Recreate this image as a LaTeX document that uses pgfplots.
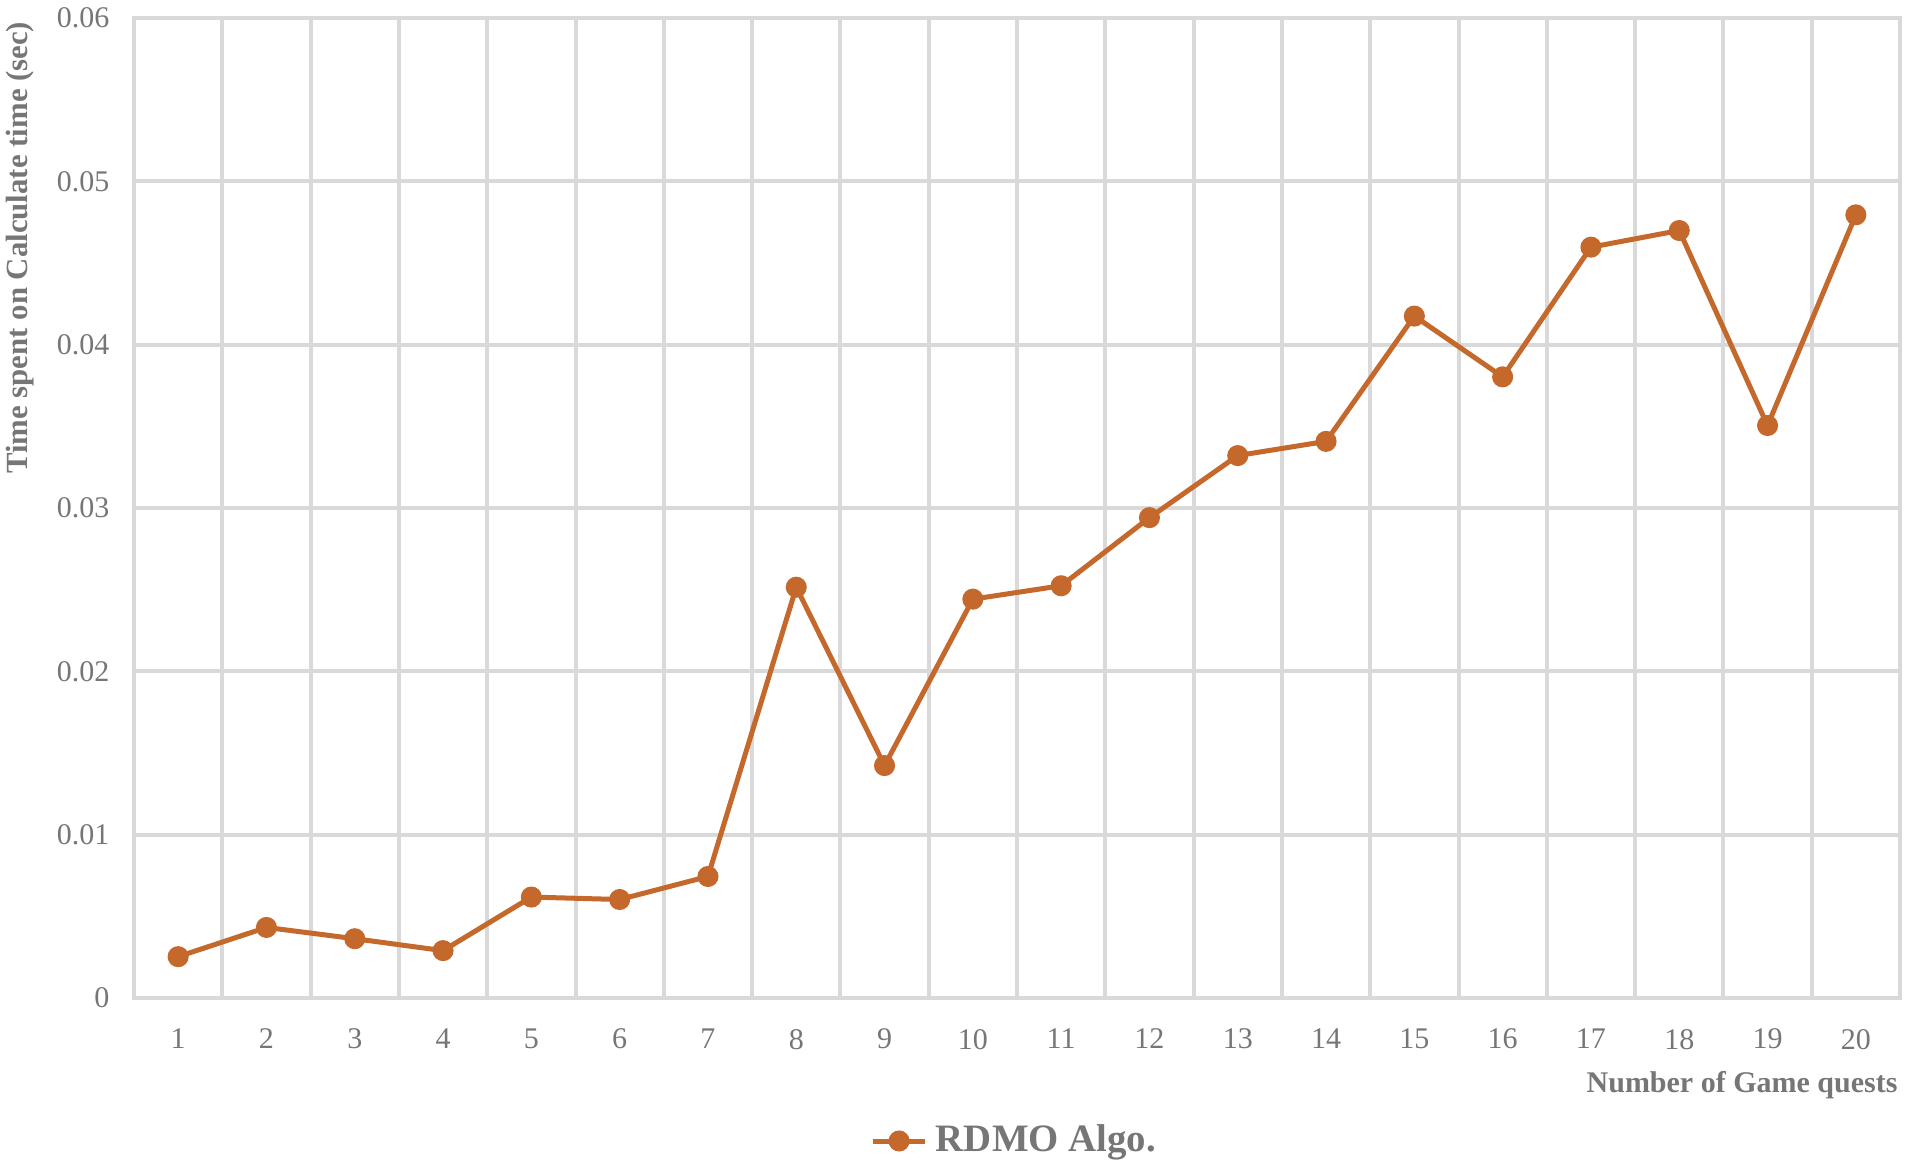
\documentclass[border=0pt]{standalone}
\usepackage{fontspec}
\setmainfont{Liberation Serif}
\usepackage{pgfplots}
\pgfplotsset{compat=1.18}
\definecolor{rdmo}{HTML}{C4682C}
\definecolor{gridc}{HTML}{D9D9D9}
\definecolor{txt}{HTML}{767676}

\begin{document}
\begin{tikzpicture}
% fixed page box: 1 px of the reference = 0.25pt
\path[use as bounding box] (-33.5pt,-42.25pt) rectangle (443.25pt,249.5pt);
\begin{axis}[
  at={(0,0)}, anchor=south west,
  scale only axis, width=441.5pt, height=245pt,
  xmin=0.5, xmax=20.5, ymin=0, ymax=0.06,
  xtick={1,...,20},
  minor xtick={1.5,2.5,...,19.5},
  ytick={0,0.01,0.02,0.03,0.04,0.05,0.06},
  scaled y ticks=false,
  yticklabel style={/pgf/number format/fixed, /pgf/number format/precision=2},
  /pgf/number format/assume math mode=true,
  major tick length=0pt, minor tick length=0pt,
  axis line style={draw=gridc, line width=1pt},
  ymajorgrids, xminorgrids,
  grid style={draw=gridc, line width=1pt},
  minor grid style={draw=gridc, line width=1pt},
  tick label style={font=\fontsize{7.5}{9}\selectfont, text=txt},
  xticklabel style={yshift=-4.25pt},
  yticklabel style={xshift=-2.6pt},
  xlabel={Number of Game quests},
  xlabel style={at={(rel axis cs:1,0)}, anchor=east, yshift=-21.75pt, xshift=2.9pt,
                font=\bfseries\fontsize{7.5}{9}\selectfont, text=txt},
  ylabel={Time spent on Calculate time (sec)},
  % the label is rotated, so its shifts act in the rotated frame
  ylabel style={at={(rel axis cs:0,1)}, anchor=east, yshift=28.5pt, xshift=2.6pt,
                font=\bfseries\fontsize{7.7}{9}\selectfont, text=txt},
  legend style={at={(axis description cs:0.5,0)}, anchor=center, yshift=-35.75pt,
                draw=none, fill=none, font=\bfseries\fontsize{9.7}{12}\selectfont, text=txt},
  legend image code/.code={
    \draw[mark repeat=2, mark phase=2, #1] plot coordinates {(0pt,0pt) (6.6pt,0pt) (13.2pt,0pt)};
  },
]
\addplot[color=rdmo, line width=1.25pt, mark=*, mark size=2pt,
         mark options={solid, fill=rdmo, draw=rdmo}] coordinates {
  (1,0.00253) (2,0.00432) (3,0.00363) (4,0.0029) (5,0.00618)
  (6,0.00603) (7,0.00744) (8,0.02515) (9,0.01423) (10,0.02442)
  (11,0.02524) (12,0.02941) (13,0.03321) (14,0.03408) (15,0.04175)
  (16,0.03803) (17,0.04597) (18,0.04699) (19,0.03505) (20,0.04795)
};
\addlegendentry{RDMO Algo.}
\end{axis}
\end{tikzpicture}
\end{document}
